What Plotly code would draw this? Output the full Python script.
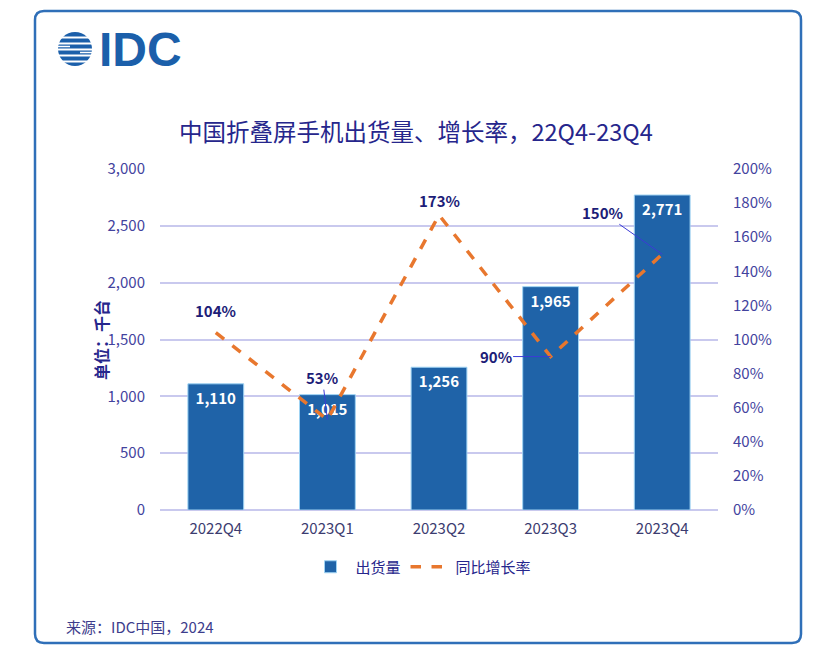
import plotly.graph_objects as go

categories = ["2022Q4", "2023Q1", "2023Q2", "2023Q3", "2023Q4"]
shipments = [1110, 1015, 1256, 1965, 2771]
growth = [1.04, 0.53, 1.73, 0.90, 1.50]
growth_labels = ["104%", "53%", "173%", "90%", "150%"]

W, H = 833, 669
L, R, T, B = 160, 718, 169, 510

def px(x):
    return (x - L) / (R - L)

def py(y):
    return (B - y) / (B - T)

NAVY = "#26268c"
TICK = "#43439e"
BAR = "#1f63a8"
ORANGE = "#e8772e"
FONT = "Noto Sans CJK SC"

fig = go.Figure()
fig.add_trace(go.Bar(
    x=categories, y=shipments, name="出货量",
    marker=dict(color=BAR, line=dict(color="#9fd3f3", width=1)),
    width=0.5,
    texttemplate="<b>%{y:,}</b>", textposition="inside", insidetextanchor="end",
    textfont=dict(color="white", size=15, family=FONT),
    yaxis="y",
))
fig.add_trace(go.Scatter(
    x=categories, y=growth, name="同比增长率", mode="lines",
    line=dict(color=ORANGE, width=3.5, dash="dash"),
    yaxis="y2",
))

# percent labels
offsets = [
    dict(showarrow=False, yshift=22),
    dict(showarrow=True, ax=-5, ay=-42),
    dict(showarrow=False, yshift=15),
    dict(showarrow=True, ax=-55, ay=0),
    dict(showarrow=True, ax=-60, ay=-42),
]
for c, g, lab, off in zip(categories, growth, growth_labels, offsets):
    ann = dict(x=c, y=g, xref="x", yref="y2", text="<b>%s</b>" % lab,
               font=dict(color="#1d1d78", size=15, family=FONT),
               arrowhead=0, arrowwidth=1, arrowcolor="#3b3bd6", standoff=0)
    ann.update(off)
    fig.add_annotation(**ann)

# other texts
fig.add_annotation(x=px(416), y=py(131), xref="paper", yref="paper",
                   xanchor="center", yanchor="middle",
                   text="中国折叠屏手机出货量、增长率，22Q4-23Q4", showarrow=False,
                   font=dict(size=23.5, color=NAVY, family=FONT))
fig.add_annotation(x=px(101), y=py(340), xref="paper", yref="paper",
                   xanchor="center", yanchor="middle",
                   text="<b>单位：千台</b>", showarrow=False, textangle=-90,
                   font=dict(size=16, color=NAVY, family=FONT))
fig.add_annotation(x=px(64), y=py(626), xref="paper", yref="paper",
                   xanchor="left", yanchor="middle",
                   text="来源：IDC中国，2024", showarrow=False,
                   font=dict(size=15, color="#3d3d8c", family=FONT))
fig.add_annotation(x=px(97), y=py(49), xref="paper", yref="paper",
                   xanchor="left", yanchor="middle",
                   text="<b>IDC</b>", showarrow=False,
                   font=dict(size=48, color="#1b5faa", family="Liberation Sans"))

shapes = []
# rounded border
x0, x1, y0, y1 = px(35), px(801), py(643), py(11)
rx, ry = 9 / (R - L), 9 / (B - T)
path = (f"M{x0+rx},{y1} L{x1-rx},{y1} Q{x1},{y1} {x1},{y1-ry} "
        f"L{x1},{y0+ry} Q{x1},{y0} {x1-rx},{y0} L{x0+rx},{y0} "
        f"Q{x0},{y0} {x0},{y0+ry} L{x0},{y1-ry} Q{x0},{y1} {x0+rx},{y1} Z")
shapes.append(dict(type="path", path=path, xref="paper", yref="paper",
                   line=dict(color="#2f6fb8", width=2.5), layer="below"))
# globe logo
cx, cy, r = 75, 49, 17
shapes.append(dict(type="circle", xref="paper", yref="paper",
                   x0=px(cx - r), x1=px(cx + r), y0=py(cy + r), y1=py(cy - r),
                   fillcolor="#1b5faa", line=dict(width=0)))
for yy in [37.5, 43.5, 49.5, 55.5, 61.5]:
    shapes.append(dict(type="line", xref="paper", yref="paper",
                       x0=px(cx - r - 1), x1=px(cx + r + 1), y0=py(yy), y1=py(yy),
                       line=dict(color="white", width=2.2)))
for yy, xa, xb in [(46.5, 56, 70), (52.5, 80, 94)]:
    shapes.append(dict(type="line", xref="paper", yref="paper",
                       x0=px(xa), x1=px(xb), y0=py(yy), y1=py(yy),
                       line=dict(color="white", width=1.5)))

fig.update_layout(
    width=W, height=H,
    margin=dict(l=L, r=W - R, t=T, b=H - B),
    paper_bgcolor="white", plot_bgcolor="white",
    font=dict(family=FONT, color=TICK),
    shapes=shapes,
    bargap=0.5,
    xaxis=dict(showgrid=False, showline=False, ticks="",
               tickfont=dict(size=15, color="#3c3c70"), ticklabelstandoff=8),
    yaxis=dict(range=[0, 3000], dtick=500, tickformat=",", showgrid=True,
               gridcolor="#c9c9ee", gridwidth=1.5, zeroline=True,
               zerolinecolor="#c9c9ee", zerolinewidth=1.5,
               tickfont=dict(size=15, color=TICK), ticklabelstandoff=14),
    yaxis2=dict(range=[0, 2.0], dtick=0.2, tickformat=".0%", overlaying="y",
                side="right", showgrid=False, zeroline=False,
                tickfont=dict(size=15, color=TICK), ticklabelstandoff=14),
    legend=dict(orientation="h", x=px(421), y=py(567), xanchor="center",
                yanchor="middle", font=dict(size=15, color=NAVY, family=FONT),
                itemwidth=40),
)

fig.write_html("out.html", config={"displayModeBar": False},
               post_script="document.body.style.margin='0';")
